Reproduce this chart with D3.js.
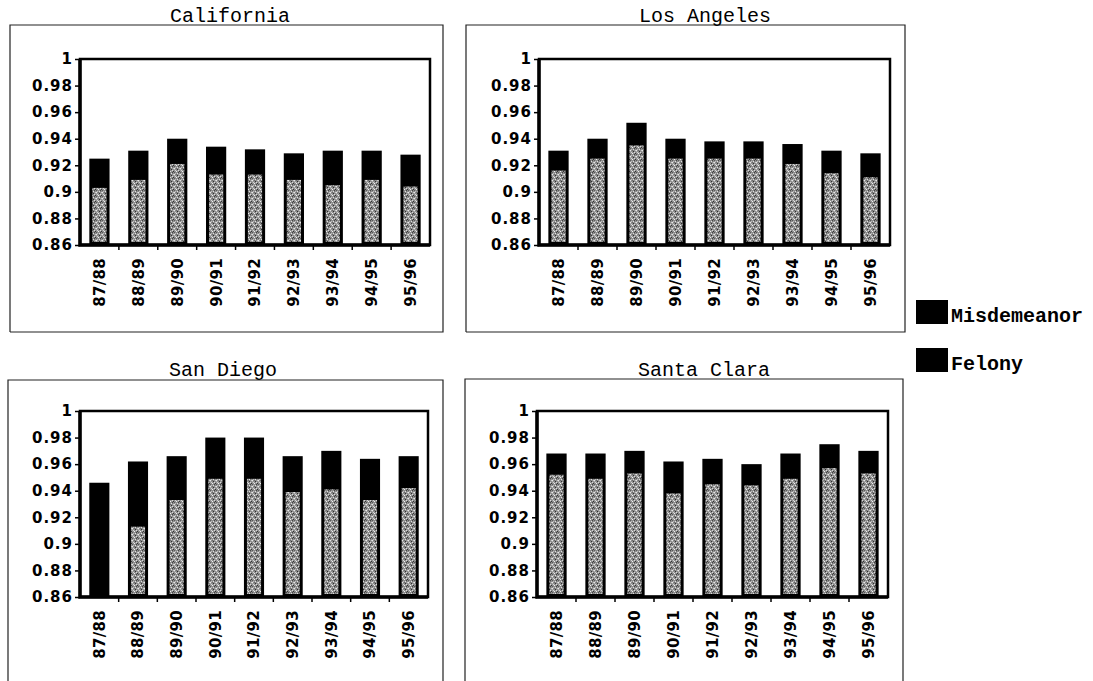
<!DOCTYPE html>
<html>
<head>
<meta charset="utf-8">
<script src="https://cdn.jsdelivr.net/npm/d3@7"></script>
<style>
  body { margin: 0; background: #fff; }
  .tick text { font-family: "DejaVu Sans", sans-serif; font-weight: bold; font-size: 15px; letter-spacing: 1px; fill: #000; }
  .xlab { font-family: "DejaVu Sans", sans-serif; font-weight: bold; font-size: 15px; letter-spacing: 0.3px; fill: #000; }
  .ttl { font-family: "Liberation Mono", "Courier New", monospace; font-size: 20px; fill: #000; }
  .leg { font-family: "Liberation Mono", "Courier New", monospace; font-size: 20px; font-weight: bold; fill: #000; }
</style>
</head>
<body>
<div id="chart"></div>
<script>
(function() {
"use strict"

// data
var categories = ["87/88","88/89","89/90","90/91","91/92","92/93","93/94","94/95","95/96"];
var yTicks = [0.86,0.88,0.9,0.92,0.94,0.96,0.98,1];
var seriesNames = ["Misdemeanor","Felony"];

var misdCalifornia = [0.925,0.931,0.940,0.934,0.932,0.929,0.931,0.931,0.928];
var felCalifornia  = [0.903,0.909,0.921,0.913,0.913,0.909,0.905,0.909,0.904];

var misdLosAngeles = [0.931,0.940,0.952,0.940,0.938,0.938,0.936,0.931,0.929];
var felLosAngeles  = [0.916,0.925,0.935,0.925,0.925,0.925,0.921,0.914,0.911];

var misdSanDiego = [0.946,0.962,0.966,0.980,0.980,0.966,0.970,0.964,0.966];
var felSanDiego  = [0.862,0.913,0.933,0.949,0.949,0.939,0.941,0.933,0.942];

var misdSantaClara = [0.968,0.968,0.970,0.962,0.964,0.960,0.968,0.975,0.970];
var felSantaClara  = [0.952,0.949,0.953,0.938,0.945,0.944,0.949,0.957,0.953];

var W = 1093, H = 681;

// layout of the four panels (box = thin outer frame, plot = axes area)
var panels = [
    {title:"California",  misd:misdCalifornia, fel:felCalifornia,
     box:[10,25,443,332],  plot:[80,59,430,245],  tx:230, ty:22},
    {title:"Los Angeles", misd:misdLosAngeles, fel:felLosAngeles,
     box:[466,25,905,332], plot:[539,59,890,245], tx:705, ty:22},
    {title:"San Diego",   misd:misdSanDiego,   fel:felSanDiego,
     box:[8,380,443,700],  plot:[80,411,428,597], tx:223, ty:376},
    {title:"Santa Clara", misd:misdSantaClara, fel:felSantaClara,
     box:[465,379,903,700],plot:[537,411,888,597],tx:704, ty:376}
];

var svg = d3.select("#chart").append("svg")
    .attr("width",W)
    .attr("height",H);

svg.append("rect").attr("width",W).attr("height",H).attr("fill","#fff");

// coarse stippled gray used for the felony part of each bar
var pat = svg.append("defs").append("pattern")
    .attr("id","stipple")
    .attr("patternUnits","userSpaceOnUse")
    .attr("width",6).attr("height",6);
pat.append("rect").attr("width",6).attr("height",6).attr("fill","#8e8e8e");
[[0,0,"#e8e8e8"],[3,1,"#2e2e2e"],[1,2,"#d4d4d4"],[4,4,"#444"],[5,0,"#c8c8c8"],
 [0,4,"#5a5a5a"],[2,3,"#f2f2f2"],[1,5,"#bdbdbd"],[4,2,"#dadada"],[2,0,"#6a6a6a"],
 [5,3,"#333"],[3,5,"#e0e0e0"],[0,1,"#b0b0b0"],[4,5,"#777"]]
    .forEach(function(d) {
        pat.append("rect").attr("x",d[0]).attr("y",d[1])
            .attr("width",1).attr("height",1).attr("fill",d[2]);
    });

panels.forEach(function(p) {
    var g = svg.append("g");
    var b = p.box, r = p.plot;

    // thin outer frame
    g.append("path")
        .attr("d","M"+b[0]+","+b[3]+"V"+b[1]+"H"+b[2]+"V"+b[3]+(b[3]<H?"H"+b[0]:""))
        .attr("fill","none")
        .attr("stroke","#222")
        .attr("stroke-width",1.2);

    g.append("text")
        .attr("class","ttl")
        .attr("x",p.tx).attr("y",p.ty)
        .attr("text-anchor","middle")
        .text(p.title);

    var x = d3.scaleBand()
        .domain(categories)
        .range([r[0],r[2]])
        .paddingInner(0.48)
        .paddingOuter(0.24);

    var y = d3.scaleLinear()
        .domain([yTicks[0],yTicks[yTicks.length-1]])
        .range([r[3],r[1]]);

    // bars: black misdemeanor column, stippled felony column inset on top
    g.selectAll(".misd").data(p.misd).enter().append("rect")
        .attr("x",function(d,i){ return x(categories[i]); })
        .attr("y",function(d){ return y(d); })
        .attr("width",x.bandwidth())
        .attr("height",function(d){ return y(yTicks[0])-y(d); })
        .attr("fill","#000");

    g.selectAll(".fel").data(p.fel).enter().append("rect")
        .attr("x",function(d,i){ return x(categories[i])+3; })
        .attr("y",function(d){ return y(d); })
        .attr("width",x.bandwidth()-6)
        .attr("height",function(d){ return Math.max(0,y(yTicks[0])-y(d)-3); })
        .attr("fill","url(#stipple)");

    // y axis
    var ya = g.append("g")
        .attr("transform","translate("+r[0]+",0)")
        .call(d3.axisLeft(y).tickValues(yTicks).tickSize(5).tickPadding(2)
            .tickFormat(function(v){ return String(+v.toFixed(2)); }));
    ya.select(".domain").remove();
    ya.selectAll(".tick line").attr("stroke","#000").attr("stroke-width",1.5);

    // x ticks at the band boundaries
    var bounds = d3.range(1,categories.length).map(function(k){ return r[0]+k*x.step(); });
    g.selectAll(".xt").data(bounds).enter().append("line")
        .attr("x1",function(d){ return d; }).attr("x2",function(d){ return d; })
        .attr("y1",r[3]).attr("y2",r[3]+5)
        .attr("stroke","#000").attr("stroke-width",1.5);

    g.selectAll(".xlab").data(categories).enter().append("text")
        .attr("class","xlab")
        .attr("transform",function(c){
            return "translate("+(x(c)+x.bandwidth()/2)+","+(r[3]+13)+") rotate(-90)";
        })
        .attr("text-anchor","end")
        .attr("dy","0.36em")
        .text(function(c){ return c; });

    // plot frame
    g.append("rect")
        .attr("x",r[0]).attr("y",r[1])
        .attr("width",r[2]-r[0]).attr("height",r[3]-r[1])
        .attr("fill","none").attr("stroke","#000").attr("stroke-width",2.5);
    g.append("path")
        .attr("d","M"+r[0]+","+r[1]+"V"+r[3]+"H"+r[2])
        .attr("fill","none").attr("stroke","#000").attr("stroke-width",3.5);
});

// legend
var leg = svg.append("g");
var legY = [300,348];
seriesNames.forEach(function(s,i) {
    leg.append("rect")
        .attr("x",916).attr("y",legY[i])
        .attr("width",32).attr("height",24)
        .attr("fill","#000");
    leg.append("text")
        .attr("class","leg")
        .attr("x",951).attr("y",legY[i]+22)
        .text(s);
});

})();
</script>
</body>
</html>
